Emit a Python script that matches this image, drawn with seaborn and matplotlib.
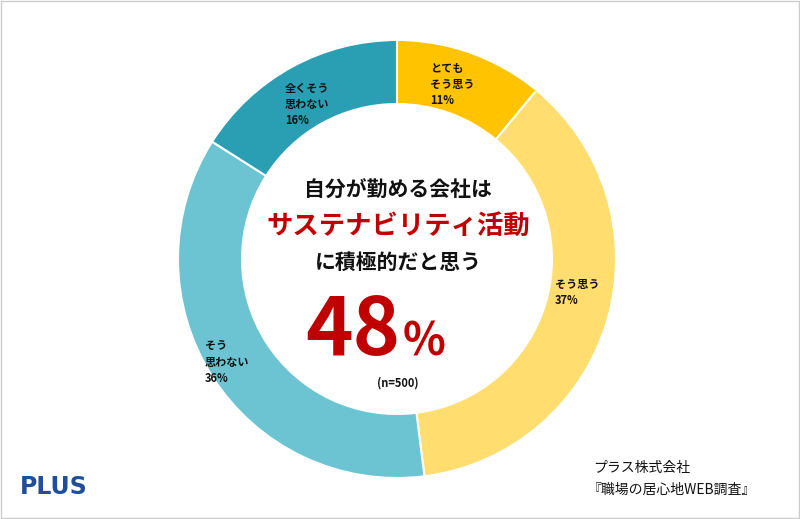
import matplotlib.pyplot as plt
import seaborn as sns

labels = ["とても\nそう思う\n11%", "そう思う\n37%", "そう\n思わない\n36%", "全くそう\n思わない\n16%"]
values = [11, 37, 36, 16]
colors = ["#FFC300", "#FFDD6E", "#6CC4D3", "#2A9FB4"]
label_pos = [(430, 62), (555, 278), (205, 340), (285, 82)]

sns.set_theme(style="white", rc={"font.family": "Noto Sans CJK JP"})
fig = plt.figure(figsize=(8, 5.19), dpi=100)
fig.patch.set_facecolor("white")
ax = fig.add_axes([0, 0, 1, 1])

# donut drawn in pixel coords (y axis inverted: start -90 is the top, and it runs clockwise)
ax.pie(values, colors=colors, startangle=-90, counterclock=True, center=(397, 259), radius=219,
       frame=True, wedgeprops=dict(width=64, edgecolor="white", linewidth=1.5))
ax.set_xlim(0, 800)
ax.set_ylim(519, 0)
ax.set_aspect("auto")
ax.axis("off")
ax.add_patch(plt.Rectangle((1, 1), 798, 517, fill=False, ec="#cccccc", lw=1))

for lab, (x, y) in zip(labels, label_pos):
    ax.text(x, y, lab, fontsize=8, fontweight="bold", va="top", ha="left", linespacing=1.3, color="#111111")

ax.text(398, 190, "自分が勤める会社は", fontsize=15, fontweight="bold", ha="center", va="center", color="#111111")
ax.text(398, 226, "サステナビリティ活動", fontsize=19, fontweight="bold", ha="center", va="center", color="#C00000")
ax.text(398, 262, "に積極的だと思う", fontsize=15, fontweight="bold", ha="center", va="center", color="#111111")
ax.text(400, 332, "48", fontsize=58, fontweight="bold", ha="right", va="center", color="#C00000")
ax.text(403, 343, "%", fontsize=32, fontweight="bold", ha="left", va="center", color="#C00000")
ax.text(398, 383, "(n=500)", fontsize=8, fontweight="bold", ha="center", va="center", color="#111111")

ax.text(20, 487, "PLUS", fontsize=17, fontweight="bold", ha="left", va="center", color="#1F4E9A",
        fontfamily="DejaVu Sans")
ax.text(593, 468, "プラス株式会社", fontsize=10, ha="left", va="center", color="#111111")
ax.text(588, 490, "『職場の居心地WEB調査』", fontsize=10, ha="left", va="center", color="#111111")

fig.savefig("out.png", dpi=100)
